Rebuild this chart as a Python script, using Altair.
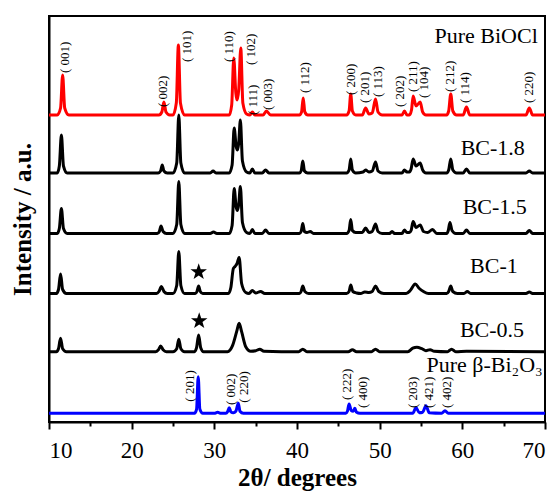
import altair as alt
import pandas as pd

# XRD patterns: (2theta in degrees, intensity above the trace's own baseline, a.u.)
BIOCL = [
    (10.0, 0), (11.0, 0), (11.4, 7), (11.65, 40), (11.9, 7), (12.4, 0),
    (23.3, 0), (23.65, 3), (23.9, 13), (24.15, 3), (24.6, 0),
    (25.0, 0), (25.4, 12), (25.65, 70), (25.9, 12), (26.4, 0),
    (31.8, 0), (32.1, 10), (32.35, 57), (32.6, 22), (32.75, 15), (32.95, 25), (33.2, 67), (33.45, 12), (33.9, 1),
    (34.3, 0), (34.6, 3), (34.9, 0),
    (35.9, 0), (36.3, 4), (36.8, 0),
    (40.3, 0), (40.55, 3), (40.75, 17), (40.95, 3), (41.3, 0),
    (46.0, 0), (46.3, 4), (46.5, 21), (46.7, 4), (47.1, 0),
    (47.9, 0), (48.3, 7), (48.7, 1),
    (49.1, 2), (49.5, 16), (49.8, 3), (50.3, 0),
    (52.7, 0), (53.0, 4), (53.3, 0),
    (53.6, 0), (53.85, 5), (54.05, 19), (54.4, 9), (54.9, 13), (55.2, 3), (55.6, 0),
    (58.1, 0), (58.35, 4), (58.6, 21), (58.85, 4), (59.3, 0),
    (60.1, 0), (60.5, 8), (60.9, 0),
    (67.7, 0), (68.1, 7), (68.5, 0), (70.0, 0),
]

BC_18 = [
    (10.0, 0), (11.0, 0), (11.25, 7), (11.5, 38), (11.75, 7), (12.2, 0),
    (23.2, 0), (23.5, 2), (23.7, 8), (23.9, 2), (24.3, 0),
    (25.0, 0), (25.45, 10), (25.7, 58), (25.95, 10), (26.4, 0),
    (29.5, 0), (29.85, 2), (30.2, 0),
    (31.8, 0), (32.15, 8), (32.4, 45), (32.65, 26), (32.8, 23), (32.95, 30), (33.15, 53), (33.4, 12), (33.9, 1),
    (34.3, 0), (34.6, 4), (34.9, 0),
    (35.8, 0), (36.2, 3), (36.6, 0),
    (40.3, 0), (40.5, 2), (40.7, 12), (40.9, 2), (41.3, 0),
    (46.0, 0), (46.3, 3), (46.5, 14), (46.7, 3), (47.1, 0),
    (48.0, 1), (48.3, 3), (48.7, 1),
    (49.1, 2), (49.5, 11), (49.8, 2), (50.3, 0),
    (52.7, 0), (53.0, 3), (53.3, 1),
    (53.6, 1), (53.8, 4), (54.05, 14), (54.4, 7), (54.9, 10), (55.2, 3), (55.6, 0),
    (58.1, 0), (58.35, 3), (58.6, 14), (58.85, 3), (59.3, 0),
    (60.1, 0), (60.5, 4), (60.9, 0),
    (67.7, 0), (68.1, 2), (68.5, 0), (70.0, 0),
]

BC_15 = [
    (10.0, 0), (11.0, 0), (11.25, 5), (11.5, 25), (11.75, 5), (12.2, 0),
    (23.1, 0), (23.35, 2), (23.55, 7.5), (23.8, 2), (24.2, 0),
    (25.0, 0), (25.45, 9), (25.7, 52), (25.95, 9), (26.4, 0),
    (29.5, 0), (29.9, 1.5), (30.3, 0),
    (31.8, 0), (32.15, 8), (32.4, 45), (32.65, 26), (32.8, 23), (32.95, 29), (33.15, 47), (33.4, 11), (33.9, 1),
    (34.3, 0), (34.6, 4), (34.9, 0),
    (35.8, 0), (36.2, 3.5), (36.6, 0),
    (40.3, 0), (40.5, 2), (40.7, 10), (40.9, 2), (41.2, 1), (41.6, 2), (42.0, 0),
    (46.0, 0), (46.3, 3), (46.5, 14), (46.7, 3), (47.1, 1),
    (47.9, 1), (48.3, 5.5), (48.7, 1),
    (49.1, 2), (49.5, 9.5), (49.8, 2), (50.3, 0),
    (51.2, 0), (51.5, 2), (51.8, 0),
    (52.7, 0), (53.0, 3.5), (53.3, 1),
    (53.6, 1), (53.8, 3), (54.05, 12), (54.4, 6), (54.9, 8.5), (55.3, 2), (55.8, 1), (56.4, 4), (56.9, 0),
    (58.1, 0), (58.3, 3), (58.5, 11), (58.75, 3), (59.2, 0),
    (60.1, 0), (60.5, 3.5), (60.9, 0),
    (67.7, 0), (68.1, 3), (68.5, 0), (70.0, 0),
]

BC_10 = [
    (10.0, 0), (10.9, 0), (11.15, 4), (11.4, 19.5), (11.65, 4), (12.1, 0),
    (23.0, 0), (23.3, 2), (23.6, 7), (23.9, 2), (24.3, 0),
    (25.0, 0), (25.45, 8), (25.7, 42), (25.95, 8), (26.4, 0),
    (27.7, 0), (27.9, 2), (28.1, 7.5), (28.3, 2), (28.6, 0),
    (31.7, 0), (32.0, 6), (32.3, 25), (32.5, 27), (32.75, 30), (33.0, 36), (33.3, 10), (33.8, 1),
    (34.2, 0), (34.6, 3), (35.0, 0.5), (35.6, 2), (36.1, 0),
    (40.3, 0), (40.5, 2), (40.7, 7.5), (40.95, 2), (41.4, 0),
    (46.0, 0), (46.3, 2), (46.5, 8.5), (46.75, 2), (47.2, 0.5),
    (47.7, 0), (48.2, 1.5), (48.7, 1),
    (49.1, 2), (49.5, 7.5), (49.9, 2), (50.5, 0),
    (53.2, 0), (53.7, 3), (54.3, 9.5), (54.8, 5), (55.3, 2), (55.9, 0),
    (58.1, 0), (58.35, 2), (58.6, 7.5), (58.85, 2), (59.4, 0),
    (60.2, 0), (60.6, 2), (61.0, 0),
    (67.7, 0), (68.1, 1.5), (68.5, 0), (70.0, 0),
]

BC_05 = [
    (10.0, 0), (10.9, 0), (11.15, 3), (11.4, 13.4), (11.65, 3), (12.1, 0),
    (22.9, 0), (23.25, 2), (23.5, 5.7), (23.8, 2), (24.2, 0),
    (25.0, 0), (25.45, 3), (25.7, 12.4), (25.95, 3), (26.4, 0),
    (27.6, 0), (27.85, 4), (28.1, 16.7), (28.35, 4), (28.7, 0),
    (31.6, 0), (32.2, 6), (32.7, 20), (33.0, 28.4), (33.3, 20), (33.8, 5), (34.4, 0.5),
    (35.0, 1), (35.5, 2.5), (36.0, 0.5),
    (40.2, 0), (40.7, 2.5), (41.2, 0),
    (46.2, 0), (46.7, 2), (47.2, 0),
    (49.0, 0), (49.5, 2.5), (50.0, 0),
    (53.4, 0), (54.0, 3.5), (54.5, 4.5), (55.1, 3), (55.6, 1), (56.1, 2), (56.6, 0.5),
    (58.2, 0), (58.7, 2.5), (59.2, 0), (60.5, 0.5), (70.0, 0),
]

BI2O3 = [
    (10.0, 0), (27.6, 0), (27.85, 4), (28.05, 36.6), (28.25, 4), (28.6, 0),
    (30.0, 0), (30.4, 1), (30.8, 0),
    (31.4, 0), (31.6, 1.5), (31.8, 5.6), (32.0, 1.5), (32.3, 0.5), (32.6, 2), (32.9, 10), (33.1, 2), (33.5, 0),
    (45.9, 0), (46.1, 2), (46.3, 9.3), (46.55, 3), (46.8, 2), (47.0, 5), (47.2, 1), (47.6, 0),
    (54.0, 0), (54.4, 5.6), (54.8, 0.5), (55.2, 1), (55.6, 7.6), (56.0, 0.5),
    (57.5, 0), (57.9, 2.6), (58.3, 0), (70.0, 0),
]

SERIES = ["Pure BiOCl", "BC-1.8", "BC-1.5", "BC-1", "BC-0.5", "Pure β-Bi₂O₃"]
PATTERNS = [BIOCL, BC_18, BC_15, BC_10, BC_05, BI2O3]
OFFSETS = [307, 249, 188.5, 128.5, 70.3, 8.7]   # vertical stacking of the patterns
COLORS = ["#ff0000", "#000000", "#000000", "#000000", "#000000", "#0000ff"]

# Series names placed at the right end of each pattern
NAME_X = [69.13, 67.56, 67.8, 66.7, 67.47, 69.73]
NAME_Y = [379, 267, 207.7, 149, 85.3, 50.3]

# Miller indices of the BiOCl reflections
HKL_BIOCL = ["001", "002", "101", "110", "102", "111", "003", "112", "200", "201",
             "113", "202", "211", "104", "212", "114", "220"]
HKL_BIOCL_X = [11.93, 23.75, 26.65, 31.77, 34.43, 34.67, 36.48, 40.95, 46.52, 48.21,
               49.78, 52.44, 54.01, 55.34, 58.49, 60.30, 68.04]
HKL_BIOCL_Y = [349, 315, 360, 360, 357, 307, 312, 329, 327, 319,
               325, 315, 330, 324, 330, 319, 319]

# Miller indices of the beta-Bi2O3 reflections
HKL_BI2O3 = ["201", "002", "220", "222", "400", "203", "421", "402"]
HKL_BI2O3_X = [27.05, 31.97, 33.58, 46.0, 47.93, 54.05, 55.99, 58.09]
HKL_BI2O3_Y = [20.3, 17, 19.3, 22, 14, 14, 14, 14]

# Stars marking the Bi2O3 (201) reflection in the composites
STAR_X = [28.11, 28.17]
STAR_Y = [150, 101]

MAJOR_TICKS = [10, 20, 30, 40, 50, 60, 70]
MINOR_TICKS = [15, 25, 35, 45, 55, 65]

# five-pointed star outline (unit radius) used as a custom symbol
STAR_PATH = ("M0,-1L0.235,-0.324L0.951,-0.309L0.38,0.124L0.588,0.809L0,0.4"
             "L-0.588,0.809L-0.38,0.124L-0.951,-0.309L-0.235,-0.324Z")

rows = []
for name, pat, off in zip(SERIES, PATTERNS, OFFSETS):
    for i, (tt, inten) in enumerate(pat):
        rows.append({"series": name, "two_theta": tt, "intensity": inten + off, "i": i})
curves = pd.DataFrame(rows)

names = pd.DataFrame({"series": SERIES, "x": NAME_X, "y": NAME_Y})
hkl = pd.DataFrame({
    "label": ["( " + h + ")" for h in HKL_BIOCL + HKL_BI2O3],
    "x": HKL_BIOCL_X + HKL_BI2O3_X,
    "y": HKL_BIOCL_Y + HKL_BI2O3_Y,
})
stars = pd.DataFrame({"x": STAR_X, "y": STAR_Y})

SERIF = "Liberation Serif"
xscale = alt.Scale(domain=[10, 70], nice=False, zero=False)
yscale = alt.Scale(domain=[0, 406], nice=False, zero=True)

x_axis = alt.Axis(
    orient="bottom", values=MAJOR_TICKS, tickSize=7, title="2θ/ degrees", grid=False,
    labelPadding=10, titlePadding=3,
)
x_minor_axis = alt.Axis(
    orient="bottom", values=MINOR_TICKS, tickSize=4, labels=False, domain=False,
    grid=False, title=None,
)
y_axis = alt.Axis(labels=False, ticks=False, grid=False, title="Intensity / a.u.",
                  titlePadding=14)

lines = alt.Chart(curves).mark_line(
    strokeWidth=3, strokeJoin="round", interpolate="monotone"
).encode(
    x=alt.X("two_theta:Q", scale=xscale, axis=x_axis),
    y=alt.Y("intensity:Q", scale=yscale, axis=y_axis),
    color=alt.Color("series:N", scale=alt.Scale(domain=SERIES, range=COLORS), legend=None),
    order="i:Q",
)

name_text = alt.Chart(names).mark_text(
    align="right", baseline="alphabetic", font=SERIF, fontSize=22, color="black"
).encode(
    x=alt.X("x:Q", scale=xscale, axis=None),
    y=alt.Y("y:Q", scale=yscale),
    text="series:N",
)

hkl_text = alt.Chart(hkl).mark_text(
    angle=270, align="left", baseline="middle", font=SERIF, fontSize=13, color="black"
).encode(
    x=alt.X("x:Q", scale=xscale, axis=None),
    y=alt.Y("y:Q", scale=yscale),
    text="label:N",
)

star_marks = alt.Chart(stars).mark_point(
    shape=STAR_PATH, filled=True, size=300, color="black", opacity=1
).encode(
    x=alt.X("x:Q", scale=xscale, axis=x_minor_axis),
    y=alt.Y("y:Q", scale=yscale),
)

chart = alt.layer(lines, name_text, hkl_text, star_marks).resolve_axis(
    x="independent"
).properties(
    width=496,
    height=406,
    autosize="none",
    padding={"left": 49, "top": 16, "right": 15, "bottom": 70},
).configure_view(
    stroke="black", strokeWidth=2
).configure_axis(
    domainColor="black", domainWidth=2, tickColor="black", tickWidth=2,
    labelFont=SERIF, labelFontSize=23, labelColor="black",
    titleFont=SERIF, titleFontSize=25, titleFontWeight="bold", titleColor="black",
)

chart.save("out.html", embed_options={"renderer": "svg", "actions": False})
